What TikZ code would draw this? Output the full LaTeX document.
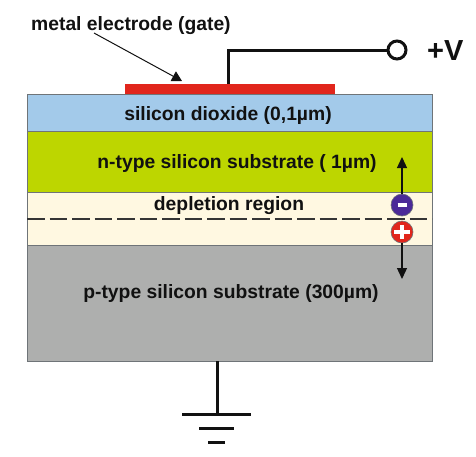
\documentclass[tikz,border=0pt]{standalone}
\usepackage{fontspec}
\setmainfont{Liberation Sans}
\usetikzlibrary{arrows.meta}
\definecolor{oxide}{HTML}{A3CAEA}
\definecolor{ntype}{HTML}{BDD600}
\definecolor{depl}{HTML}{FFF8E1}
\definecolor{ptype}{HTML}{AEAFAE}
\definecolor{gatered}{HTML}{E1261C}
\definecolor{edge}{HTML}{6F7478}
\definecolor{ink}{HTML}{111111}
\definecolor{minusc}{HTML}{4B2A98}
\definecolor{plusc}{HTML}{E1261C}
\tikzset{
  layer/.style={draw=edge,line width=1pt,minimum width=405pt,inner sep=0pt,outer sep=0pt,anchor=north west},
  lab/.style={font=\bfseries\fontsize{19.3}{22}\selectfont,text=ink,inner sep=0pt,anchor=base},
  wire/.style={draw=ink,line width=3pt},
  arr/.style={draw=ink,line width=1.3pt,-{Triangle[length=11pt,width=10pt]}},
  charge/.style={circle,minimum size=22pt,inner sep=0pt,draw=edge,line width=.6pt,text=white,font=\bfseries\fontsize{18}{18}\selectfont}
}
\begin{document}
\begin{tikzpicture}[x=1pt,y=-1pt]
\useasboundingbox (0,0) rectangle (476,456);
\node[layer,fill=oxide,minimum height=37pt] (ox) at (27,94) {};
\node[layer,fill=ntype,minimum height=61pt] (nt) at (27,131) {};
\node[layer,fill=depl,minimum height=53pt] (de) at (27,192) {};
\node[layer,fill=ptype,minimum height=116pt] (pt) at (27,245) {};
\node[fill=gatered,minimum width=210pt,minimum height=10pt,inner sep=0pt,outer sep=0pt,anchor=north west] (gate) at (125,84) {};
\node[lab] (l1) at (228,120) {silicon dioxide (0,1µm)};
\node[lab] (l2) at (237,168) {n-type silicon substrate ( 1µm)};
\node[lab] (l3) at (229,210) {depletion region};
\node[lab] (l4) at (231,298) {p-type silicon substrate (300µm)};
\node[lab,anchor=base west] (l5) at (31,30) {metal electrode (gate)};
\node[font=\bfseries\fontsize{29}{30}\selectfont,text=ink,inner sep=0pt,anchor=base west] (vl) at (427,60) {+V};
\node[circle,draw=ink,line width=3pt,fill=white,minimum size=18pt,inner sep=0pt] (term) at (397,50) {};
\coordinate (gtop) at (228,84);
\draw[wire] (gtop) -- (228,50) -- (term);
\coordinate (ga) at (182,81);
\draw[draw=ink,line width=1pt,-{Triangle[length=10pt,width=11pt]}] (94,33) -- (ga);
\coordinate (dl) at (27,219);
\coordinate (dr) at (432,219);
\draw[draw=ink!85,line width=2pt,dash pattern=on 17.5pt off 5pt] (dl) -- (dr);
\node[charge,fill=minusc] (mi) at (402,205) {\rule[-2pt]{9pt}{4pt}};
\node[charge,fill=plusc] (pl) at (402,232) {\rule[-2pt]{16pt}{4pt}\llap{\rule[-7pt]{4pt}{14pt}\kern6pt}};
\coordinate (up) at (402,157);
\coordinate (dn) at (402,279);
\draw[arr] (mi) -- (up);
\draw[arr] (pl) -- (dn);
\coordinate (g0) at (217,361);
\coordinate (g1) at (217,414);
\draw[draw=ink,line width=3pt] (g0) -- (g1);
\draw[draw=ink,line width=3pt] (182,414) -- (251,414);
\draw[draw=ink,line width=3pt] (199,428) -- (234,428);
\draw[draw=ink,line width=3pt] (208,442) -- (225,442);
\end{tikzpicture}
\end{document}
